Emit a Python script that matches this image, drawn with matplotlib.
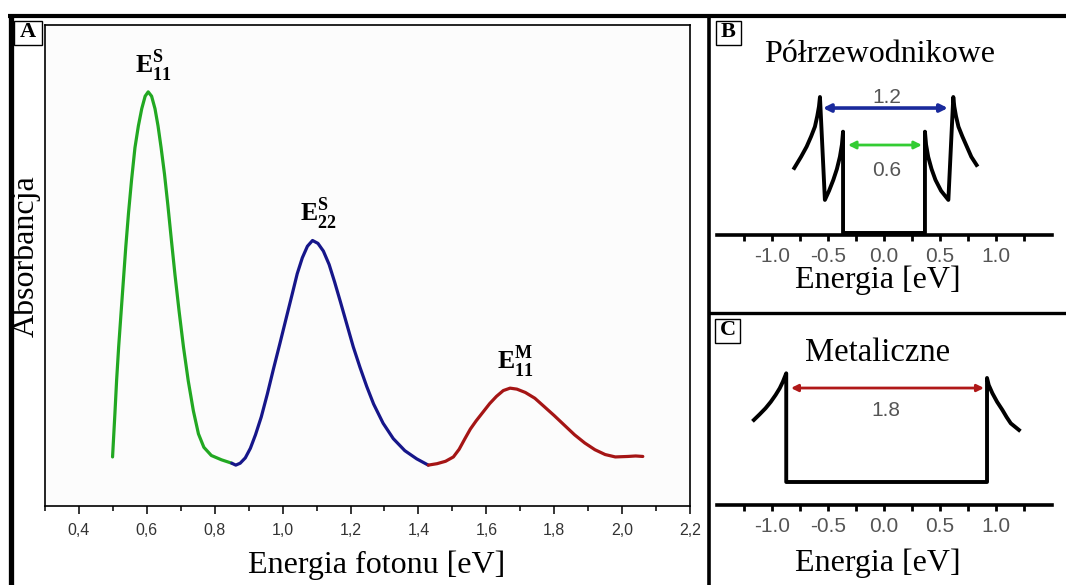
import matplotlib
matplotlib.use("Agg")
import matplotlib.pyplot as plt
from matplotlib.lines import Line2D
from matplotlib.patches import Rectangle

plt.rcParams['mathtext.fontset'] = 'custom'
plt.rcParams['mathtext.rm'] = 'Liberation Serif'
plt.rcParams['mathtext.bf'] = 'Liberation Serif:bold'

# ---- panel A: absorption spectrum, three segments
green_x = [0.499, 0.506, 0.511, 0.517, 0.524, 0.531, 0.538, 0.546, 0.555, 0.565,
           0.575, 0.585, 0.595, 0.604, 0.614, 0.624, 0.633, 0.642, 0.652, 0.662,
           0.672, 0.683, 0.695, 0.708, 0.722, 0.737, 0.752, 0.768, 0.790, 0.820, 0.850]
green_y = [0.102, 0.193, 0.262, 0.331, 0.401, 0.470, 0.539, 0.609, 0.678, 0.745,
           0.790, 0.826, 0.852, 0.861, 0.852, 0.826, 0.790, 0.745, 0.690, 0.625,
           0.555, 0.480, 0.405, 0.330, 0.260, 0.198, 0.150, 0.122, 0.105, 0.096, 0.089]

blue_x = [0.850, 0.862, 0.875, 0.890, 0.905, 0.920, 0.937, 0.955, 0.973, 0.992,
          1.011, 1.028, 1.043, 1.058, 1.073, 1.088, 1.104, 1.120, 1.137, 1.153,
          1.170, 1.189, 1.208, 1.228, 1.248, 1.268, 1.296, 1.326, 1.360, 1.395, 1.429]
blue_y = [0.089, 0.085, 0.089, 0.100, 0.120, 0.148, 0.185, 0.233, 0.285, 0.338,
          0.392, 0.440, 0.483, 0.516, 0.540, 0.552, 0.546, 0.530, 0.502, 0.466,
          0.425, 0.378, 0.331, 0.288, 0.248, 0.212, 0.172, 0.140, 0.115, 0.098, 0.085]

red_x = [1.429, 1.455, 1.480, 1.503, 1.520, 1.537, 1.553, 1.570, 1.590, 1.610,
         1.630, 1.650, 1.670, 1.690, 1.715, 1.743, 1.770, 1.800, 1.830, 1.860,
         1.890, 1.920, 1.950, 1.980, 2.017, 2.040, 2.061]
red_y = [0.085, 0.088, 0.093, 0.102, 0.118, 0.140, 0.160, 0.177, 0.195, 0.213,
         0.228, 0.240, 0.245, 0.243, 0.236, 0.224, 0.207, 0.188, 0.168, 0.148,
         0.131, 0.117, 0.107, 0.102, 0.103, 0.104, 0.103]

peak_labels = [r'$\mathbf{E}_{\mathbf{11}}^{\mathbf{S}}$',
               r'$\mathbf{E}_{\mathbf{22}}^{\mathbf{S}}$',
               r'$\mathbf{E}_{\mathbf{11}}^{\mathbf{M}}$']

a_ticks = [0.4, 0.6, 0.8, 1.0, 1.2, 1.4, 1.6, 1.8, 2.0, 2.2]
a_tick_labels = ['0,4', '0,6', '0,8', '1,0', '1,2', '1,4', '1,6', '1,8', '2,0', '2,2']

# ---- panels B and C: schematic density of states
b_x = [-0.80, -0.74, -0.69, -0.65, -0.616, -0.595, -0.58, -0.571,
       -0.527, -0.49, -0.452, -0.42, -0.393, -0.375, -0.365, -0.365,
       0.366, 0.366, 0.376, 0.395, 0.425, 0.46, 0.51, 0.575,
       0.619, 0.628, 0.643, 0.665, 0.70, 0.74, 0.78, 0.827]
b_y = [0.478, 0.56, 0.635, 0.71, 0.782, 0.86, 0.93, 1.0,
       0.243, 0.31, 0.39, 0.47, 0.561, 0.65, 0.745, 0.0,
       0.0, 0.745, 0.65, 0.56, 0.47, 0.39, 0.31, 0.243,
       1.0, 0.93, 0.86, 0.782, 0.71, 0.635, 0.56, 0.50]
b_gaps = [1.2, 0.6]
b_gap_ends = [(-0.545, 0.571), (-0.321, 0.339)]
b_gap_y = [0.919, 0.647]

c_x = [-1.161, -1.11, -1.057, -1.01, -0.967, -0.93, -0.902, -0.872, -0.872,
       0.920, 0.920, 0.935, 0.968, 1.010, 1.057, 1.095, 1.132, 1.205]
c_y = [0.569, 0.62, 0.676, 0.735, 0.798, 0.86, 0.920, 0.997, 0.0,
       0.0, 0.954, 0.89, 0.814, 0.735, 0.661, 0.595, 0.538, 0.477]
c_gap = 1.8
c_gap_ends = (-0.83, 0.893)
c_gap_y = 0.862

dos_ticks = [-1.0, -0.5, 0.0, 0.5, 1.0]
dos_tick_labels = ['-1.0', '-0.5', '0.0', '0.5', '1.0']
dos_minor = [-1.25, -0.75, -0.25, 0.25, 0.75, 1.25]

W, H = 1066, 585
fig = plt.figure(figsize=(W / 100, H / 100), dpi=100)
serif = 'Liberation Serif'
sans = 'Liberation Sans'


def px_box(x0, y0, x1, y1):
    return [x0 / W, 1 - y1 / H, (x1 - x0) / W, (y1 - y0) / H]


def fx(x):
    return x / W


def fy(y):
    return 1 - y / H


# panel A
axA = fig.add_axes(px_box(45, 25, 690, 506))
axA.set_facecolor('#fcfcfc')
axA.plot(green_x, green_y, color='#22a822', lw=2.3, solid_capstyle='round')
axA.plot(blue_x, blue_y, color='#16168a', lw=2.3, solid_capstyle='round')
axA.plot(red_x, red_y, color='#a51515', lw=2.3, solid_capstyle='round')
axA.set_xlim(0.3, 2.2)
axA.set_ylim(0, 1)
axA.set_yticks([])
axA.set_xticks(a_ticks)
axA.set_xticklabels(a_tick_labels, family=sans)
axA.set_xticks([0.3 + 0.2 * i for i in range(10)], minor=True)
axA.tick_params(axis='x', which='major', direction='out', length=6, width=1.1,
                pad=6, labelsize=11.5, labelcolor='#333333')
axA.tick_params(axis='x', which='minor', direction='out', length=3.5, width=1.1)
for s in axA.spines.values():
    s.set_linewidth(1.2)

for xs, ys, lab in zip([green_x, blue_x, red_x], [green_y, blue_y, red_y], peak_labels):
    i = ys.index(max(ys))
    axA.annotate(lab, xy=(xs[i], ys[i]), xytext=(4, 6), textcoords='offset points',
                 ha='center', va='bottom', fontsize=18.5)

fig.text(fx(377), fy(565), 'Energia fotonu [eV]', ha='center', va='center',
         fontsize=23, family=serif)
fig.text(fx(26), fy(256), 'Absorbancja', ha='center', va='center', rotation=90,
         fontsize=23, family=serif)


def dos_axes(box, ylim):
    ax = fig.add_axes(box)
    ax.patch.set_alpha(0)
    ax.set_xlim(-1.49, 1.5)
    ax.set_ylim(*ylim)
    for k in ['top', 'left', 'right']:
        ax.spines[k].set_visible(False)
    ax.spines['bottom'].set_linewidth(2.6)
    ax.set_yticks([])
    ax.set_xticks(dos_ticks)
    ax.set_xticklabels(dos_tick_labels, family=sans)
    ax.set_xticks(dos_minor, minor=True)
    ax.tick_params(axis='x', which='both', direction='out', length=4, width=2,
                   pad=5, labelsize=15, labelcolor='#555555')
    return ax


# panel B
axB = dos_axes(px_box(717, 75, 1052, 235), (-0.015, 1.162))
axB.plot(b_x, b_y, color='black', lw=2.8, clip_on=False)
axB.text(0.027, 0.993, f'{b_gaps[0]:.1f}', ha='center', va='center', fontsize=15,
         color='#555555', family=sans, zorder=1)
axB.text(0.027, 0.463, f'{b_gaps[1]:.1f}', ha='center', va='center', fontsize=15,
         color='#555555', family=sans, zorder=1)
for (x0, x1), y, col, lw in zip(b_gap_ends, b_gap_y, ['#1a2a9c', '#33cc33'], [2.6, 2.0]):
    axB.annotate('', xy=(x1, y), xytext=(x0, y),
                 arrowprops=dict(arrowstyle='<|-|>', color=col, lw=lw,
                                 mutation_scale=11, shrinkA=0, shrinkB=0), zorder=3)
fig.text(fx(880), fy(55), 'Półrzewodnikowe', ha='center', va='center',
         fontsize=23, family=serif)
fig.text(fx(878), fy(280), 'Energia [eV]', ha='center', va='center',
         fontsize=23, family=serif)

# panel C
axC = dos_axes(px_box(717, 360, 1052, 505), (-0.211, 1.119))
axC.plot(c_x, c_y, color='black', lw=2.8, clip_on=False)
axC.text(0.018, 0.66, f'{c_gap:.1f}', ha='center', va='center', fontsize=15,
         color='#555555', family=sans)
axC.annotate('', xy=(c_gap_ends[1], c_gap_y), xytext=(c_gap_ends[0], c_gap_y),
             arrowprops=dict(arrowstyle='<|-|>', color='#b01818', lw=2.0,
                             mutation_scale=10, shrinkA=0, shrinkB=0))
fig.text(fx(878), fy(353), 'Metaliczne', ha='center', va='center',
         fontsize=23.5, family=serif)
fig.text(fx(878), fy(563), 'Energia [eV]', ha='center', va='center',
         fontsize=23, family=serif)

# outer frame and dividers
frame = [((10.5, 10.5), (15.5, 585)),
         ((8, 1066), (15.5, 15.5)),
         ((708.5, 708.5), (15.5, 585)),
         ((708.5, 1066), (313, 313))]
for (xs, ys), lw in zip(frame, [3.8, 3.0, 2.6, 2.4]):
    fig.add_artist(Line2D([fx(v) for v in xs], [fy(v) for v in ys],
                          color='black', lw=lw, solid_capstyle='butt'))

# panel letters
for letter, (x0, y0, x1, y1) in zip('ABC', [(14, 21, 42, 45), (716, 21, 741, 45),
                                            (715, 319, 740, 343)]):
    fig.add_artist(Rectangle((fx(x0), fy(y1)), (x1 - x0) / W, (y1 - y0) / H,
                             fill=False, lw=1.0, edgecolor='black'))
    fig.text(fx((x0 + x1) / 2), fy((y0 + y1) / 2 - 1), letter, ha='center', va='center',
             fontsize=16, fontweight='bold', family=serif)

fig.savefig('out.png', dpi=100)
